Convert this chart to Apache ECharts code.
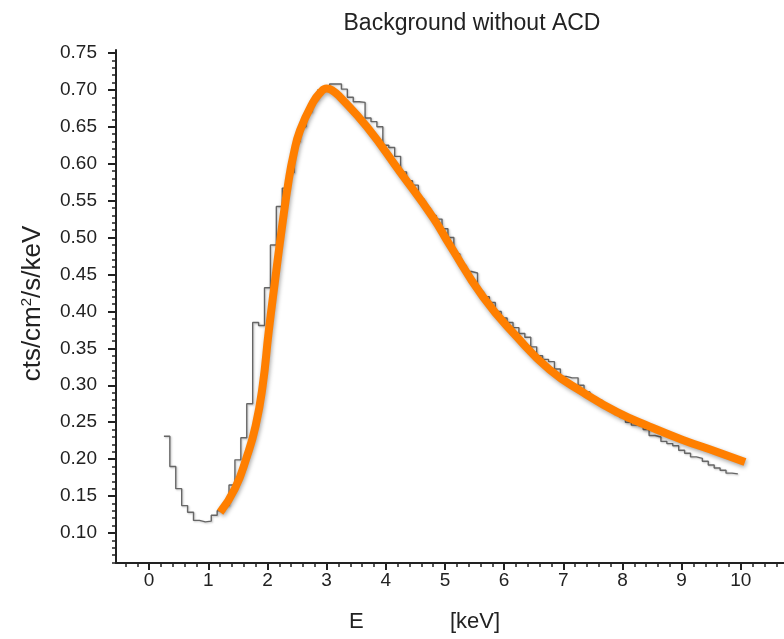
<!DOCTYPE html>
<html>
<head>
<meta charset="utf-8">
<script src="https://cdn.jsdelivr.net/npm/echarts@6/dist/echarts.min.js"></script>
<style>
html,body{margin:0;padding:0;background:#fff;}
#chart{width:784px;height:639px;}
</style>
</head>
<body>
<div id="chart"></div>
<script>
// ---- data ----
const titleText = 'Background without ACD';
const histBinStart = 0.25;   // keV, left edge of first bin
const histBinWidth = 0.1;    // keV
const histValues = [
  0.231,0.190,0.160,0.137,0.128,0.117,0.115,0.116,0.124,0.130,
  0.137,0.165,0.199,0.229,0.275,0.385,0.381,0.432,0.490,0.542,
  0.567,0.588,0.630,0.650,0.670,0.687,0.700,0.704,0.708,0.708,
  0.701,0.690,0.684,0.683,0.662,0.657,0.650,0.625,0.622,0.610,
  0.589,0.577,0.571,0.552,0.540,0.530,0.525,0.512,0.500,0.478,
  0.463,0.454,0.452,0.427,0.420,0.412,0.400,0.391,0.385,0.378,
  0.370,0.365,0.352,0.340,0.335,0.332,0.322,0.312,0.310,0.310,
  0.300,0.291,0.284,0.280,0.272,0.270,0.262,0.257,0.250,0.246,
  0.244,0.240,0.232,0.230,0.224,0.221,0.218,0.212,0.208,0.203,
  0.201,0.197,0.192,0.188,0.185,0.181,0.180
];
const fitE = [1.20,1.45,1.65,1.80,1.92,2.02,2.13,2.24,2.36,2.44,2.55,2.77,2.90,3.00,3.10,3.23,3.68,4.24,4.80,5.08,5.64,6.21,6.77,7.34,7.90,8.46,9.02,9.59,10.07];
const fitV = [0.128,0.160,0.203,0.245,0.300,0.372,0.443,0.511,0.578,0.612,0.645,0.683,0.697,0.702,0.699,0.690,0.650,0.589,0.527,0.490,0.420,0.366,0.321,0.290,0.264,0.244,0.226,0.210,0.196];
const xMajorTicks = [0,1,2,3,4,5,6,7,8,9,10];
const xMinorTicks = [-0.4,-0.2,0.2,0.4,0.6,0.8,1.2,1.4,1.6,1.8,2.2,2.4,2.6,2.8,3.2,3.4,3.6,3.8,4.2,4.4,4.6,4.8,5.2,5.4,5.6,5.8,6.2,6.4,6.6,6.8,7.2,7.4,7.6,7.8,8.2,8.4,8.6,8.8,9.2,9.4,9.6,9.8,10.2,10.4,10.6];
const yMajorTicks = [0.10,0.15,0.20,0.25,0.30,0.35,0.40,0.45,0.50,0.55,0.60,0.65,0.70,0.75];
const yMinorTicks = [0.06,0.07,0.08,0.09,0.11,0.12,0.13,0.14,0.16,0.17,0.18,0.19,0.21,0.22,0.23,0.24,0.26,0.27,0.28,0.29,0.31,0.32,0.33,0.34,0.36,0.37,0.38,0.39,0.41,0.42,0.43,0.44,0.46,0.47,0.48,0.49,0.51,0.52,0.53,0.54,0.56,0.57,0.58,0.59,0.61,0.62,0.63,0.64,0.66,0.67,0.68,0.69,0.71,0.72,0.73,0.74];
const xRange = [-0.56, 10.73];
const yRange = [0.0593, 0.754];

// ---- build ----
const histData = histValues.map((v, i) => [histBinStart + i * histBinWidth, v]);
histData.push([histBinStart + histValues.length * histBinWidth, histValues[histValues.length - 1]]);
const fitData = fitE.map((e, i) => [e, fitV[i]]);

const FONT = 'Liberation Sans, Arial, sans-serif';
const dark = '#222';

const chart = echarts.init(document.getElementById('chart'), null, {renderer: 'canvas'});
chart.setOption({
  animation: false,
  backgroundColor: '#fff',
  title: {
    text: titleText,
    left: 467, top: 7, textAlign: 'center',
    textStyle: {fontFamily: FONT, fontSize: 23, fontWeight: 'normal', color: '#222'}
  },
  grid: {left: 116, right: 0, top: 50, bottom: 76, containLabel: false},
  xAxis: [{
    type: 'value', min: xRange[0], max: xRange[1], position: 'bottom',
    axisLine: {show: true, onZero: false, lineStyle: {color: dark, width: 2}},
    axisTick: {show: true, customValues: xMajorTicks, length: 7, lineStyle: {color: dark, width: 2}},
    axisLabel: {show: true, customValues: xMajorTicks, margin: 8, fontFamily: FONT, fontSize: 19, color: '#222'},
    splitLine: {show: false}
  }, {
    type: 'value', min: xRange[0], max: xRange[1], position: 'bottom', offset: 0,
    axisLine: {show: false, onZero: false},
    axisTick: {show: true, customValues: xMinorTicks, length: 4, lineStyle: {color: dark, width: 1.5}},
    axisLabel: {show: false},
    splitLine: {show: false}
  }],
  yAxis: [{
    type: 'value', min: yRange[0], max: yRange[1], position: 'left',
    axisLine: {show: true, onZero: false, lineStyle: {color: dark, width: 2}},
    axisTick: {show: true, customValues: yMajorTicks, length: 8, lineStyle: {color: dark, width: 2}},
    axisLabel: {show: true, customValues: yMajorTicks, margin: 19, fontFamily: FONT, fontSize: 19, color: '#222',
      formatter: v => v.toFixed(2)},
    splitLine: {show: false},
    name: 'cts/cm{sup|2}/s/keV',
    nameLocation: 'middle', nameGap: 69, nameRotate: 90,
    nameTextStyle: {fontFamily: FONT, fontSize: 26, color: '#222', padding: [0, 0, 0, 6],
      rich: {sup: {fontFamily: FONT, fontSize: 15, color: '#222', verticalAlign: 'top', padding: [0,0,13,0]}}}
  }, {
    type: 'value', min: yRange[0], max: yRange[1], position: 'left', offset: 0,
    axisLine: {show: false, onZero: false},
    axisTick: {show: true, customValues: yMinorTicks, length: 4, lineStyle: {color: dark, width: 1.5}},
    axisLabel: {show: false},
    splitLine: {show: false}
  }],
  graphic: [
    {type: 'text', left: 349, top: 611, style: {text: 'E', font: '22px ' + FONT, fill: '#222'}},
    {type: 'text', left: 450, top: 611, style: {text: '[keV]', font: '22px ' + FONT, fill: '#222'}}
  ],
  series: [{
    type: 'line', name: 'data', data: histData, step: 'end', symbol: 'none',
    xAxisIndex: 0, yAxisIndex: 0, z: 2,
    lineStyle: {color: '#666', width: 1.4, shadowColor: 'rgba(0,0,0,0.25)', shadowBlur: 2, shadowOffsetX: 1, shadowOffsetY: 1}
  }, {
    type: 'line', name: 'fit', data: fitData, smooth: 0.5, symbol: 'none',
    xAxisIndex: 0, yAxisIndex: 0, z: 3,
    lineStyle: {color: '#FF7F00', width: 8, cap: 'butt', shadowColor: 'rgba(0,0,0,0.35)', shadowBlur: 4, shadowOffsetX: 1, shadowOffsetY: 2}
  }]
});
</script>
</body>
</html>
